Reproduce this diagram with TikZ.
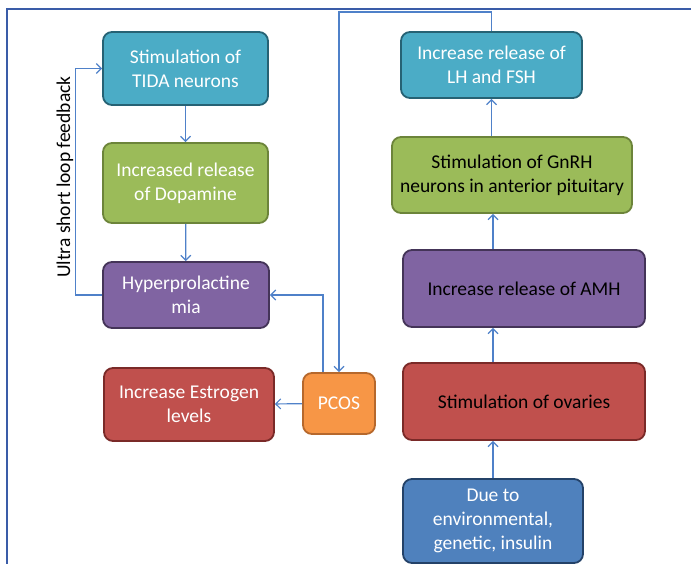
\documentclass[tikz,border=0pt]{standalone}
\usepackage{fontspec}
\setmainfont{Carlito}
\usetikzlibrary{arrows.meta}

\definecolor{tealbox}{RGB}{75,172,198}
\definecolor{tealline}{RGB}{38,98,116}
\definecolor{greenbox}{RGB}{155,187,89}
\definecolor{greenline}{RGB}{108,132,58}
\definecolor{purplebox}{RGB}{128,100,162}
\definecolor{purpleline}{RGB}{68,52,88}
\definecolor{redbox}{RGB}{192,80,77}
\definecolor{redline}{RGB}{122,42,40}
\definecolor{orangebox}{RGB}{247,150,70}
\definecolor{orangeline}{RGB}{182,104,44}
\definecolor{bluebox}{RGB}{79,129,189}
\definecolor{blueline}{RGB}{36,66,104}
\definecolor{wire}{RGB}{79,129,201}
\definecolor{framecol}{RGB}{58,92,168}

\tikzset{
  box/.style={draw, rounded corners=9pt, line width=1.8pt, align=center,
    inner sep=0pt, font=\fontsize{19.5}{24}\selectfont},
  link/.style={wire, line width=1.2pt, -{Straight Barb[length=5pt,width=10pt]}}
}

\begin{document}
\begin{tikzpicture}[x=1pt,y=-1pt]
\useasboundingbox (0,0) rectangle (691,564);

\draw[framecol, line width=1.5pt] (691,9) -- (7,9) -- (7,564);

\node[box, fill=tealbox, draw=tealline, text=white, minimum width=165pt, minimum height=73pt] (tida) at (185.5,68.5) {Stimulation of\\TIDA neurons};
\node[box, fill=greenbox, draw=greenline, text=white, minimum width=165pt, minimum height=80pt] (dopa) at (185.5,183) {Increased release\\of Dopamine};
\node[box, fill=purplebox, draw=purpleline, text=white, minimum width=166pt, minimum height=66pt] (hyper) at (186,295) {Hyperprolactine\\mia};
\node[box, fill=redbox, draw=redline, text=white, minimum width=170pt, minimum height=73pt] (estro) at (189,404.5) {Increase Estrogen\\levels};
\node[box, fill=orangebox, draw=orangeline, text=white, minimum width=72pt, minimum height=61pt] (pcos) at (339,403.5) {PCOS};

\node[box, fill=tealbox, draw=tealline, text=white, minimum width=181pt, minimum height=66pt] (lh) at (491.5,65) {Increase release of\\LH and FSH};
\node[box, fill=greenbox, draw=greenline, text=black, minimum width=240pt, minimum height=76pt] (gnrh) at (512,175) {Stimulation of GnRH\\neurons in anterior pituitary};
\node[box, fill=purplebox, draw=purpleline, text=black, minimum width=242pt, minimum height=77pt] (amh) at (524,288.5) {Increase release of AMH};
\node[box, fill=redbox, draw=redline, text=black, minimum width=242pt, minimum height=77pt] (ovar) at (524,401.5) {Stimulation of ovaries};
\node[box, fill=bluebox, draw=blueline, text=white, minimum width=180pt, minimum height=84pt] (due) at (493,521) {Due to\\environmental,\\genetic, insulin};

\node[rotate=90, font=\fontsize{19.5}{24}\selectfont] (loop) at (65,177) {Ultra short loop feedback};
\coordinate (topline) at (0,12);

\draw[link] (tida) -- (dopa);
\draw[link] (dopa) -- (hyper);
\draw[link] (hyper.west) -- ++(-27,0) |- (tida.west);
\draw[link] ([xshift=-16pt]pcos.north) |- (hyper.east);
\draw[link] (pcos) -- (estro);
\draw[link] (lh.north) -- (lh.north |- topline) -| (pcos.north);
\draw[link] (due.north) -- (due.north |- ovar.south);
\draw[link] (ovar.north -| due.north) -- (amh.south -| due.north);
\draw[link] (amh.north -| due.north) -- (gnrh.south -| due.north);
\draw[link] (gnrh.north -| lh.south) -- (lh.south);

\end{tikzpicture}
\end{document}
